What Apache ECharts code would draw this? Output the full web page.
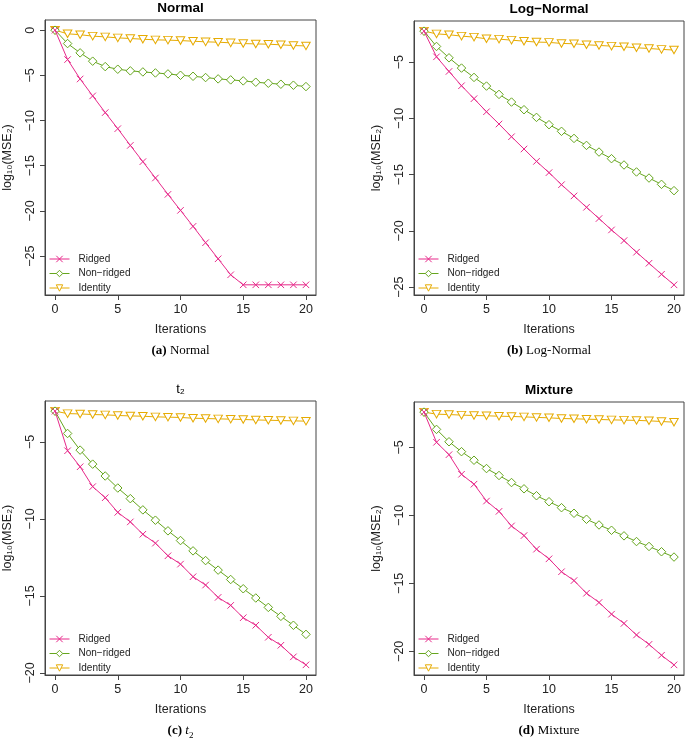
<!DOCTYPE html>
<html><head><meta charset="utf-8">
<script src="https://cdn.jsdelivr.net/npm/echarts@6/dist/echarts.min.js"></script>
<style>html,body{margin:0;padding:0;background:#fff}#c{width:685px;height:741px}</style>
</head><body><div id="c"></div><script>
const iterations = [0,1,2,3,4,5,6,7,8,9,10,11,12,13,14,15,16,17,18,19,20];
const seriesNames = ['Ridged', 'Non\u2212ridged', 'Identity'];
const xTicks = [0,5,10,15,20];

const normalRidged   = [0,-3.25,-5.4,-7.27,-9.12,-10.9,-12.75,-14.55,-16.36,-18.17,-19.94,-21.71,-23.52,-25.3,-27.07,-28.18,-28.18,-28.18,-28.18,-28.18,-28.18];
const normalNonRidged= [0,-1.48,-2.51,-3.43,-4.03,-4.32,-4.5,-4.62,-4.73,-4.84,-4.99,-5.1,-5.24,-5.39,-5.5,-5.61,-5.76,-5.87,-5.98,-6.09,-6.24];
const normalIdentity = [0,-0.4,-0.5,-0.66,-0.74,-0.85,-0.92,-1.0,-1.07,-1.1,-1.15,-1.22,-1.29,-1.33,-1.4,-1.48,-1.52,-1.55,-1.62,-1.7,-1.74];
const normalYTicks = [0,-5,-10,-15,-20,-25];

const lognRidged   = [-2.25,-4.53,-5.83,-7.1,-8.25,-9.41,-10.5,-11.63,-12.72,-13.82,-14.82,-15.89,-16.89,-17.9,-18.9,-19.91,-20.86,-21.89,-22.87,-23.85,-24.79];
const lognNonRidged= [-2.25,-3.61,-4.62,-5.53,-6.36,-7.13,-7.87,-8.55,-9.23,-9.91,-10.56,-11.15,-11.78,-12.4,-12.99,-13.58,-14.14,-14.76,-15.3,-15.86,-16.42];
const lognIdentity = [-2.25,-2.49,-2.57,-2.69,-2.78,-2.93,-2.96,-3.05,-3.14,-3.22,-3.25,-3.34,-3.37,-3.46,-3.52,-3.58,-3.64,-3.73,-3.79,-3.87,-3.93];
const lognYTicks = [-5,-10,-15,-20,-25];

const t2Ridged   = [-3.01,-5.58,-6.62,-7.91,-8.63,-9.58,-10.2,-11.0,-11.58,-12.4,-12.94,-13.76,-14.3,-15.1,-15.62,-16.42,-16.91,-17.69,-18.21,-18.96,-19.48];
const t2NonRidged= [-3.01,-4.46,-5.54,-6.45,-7.22,-8.0,-8.69,-9.42,-10.09,-10.78,-11.41,-12.08,-12.71,-13.33,-13.94,-14.54,-15.14,-15.75,-16.33,-16.91,-17.5];
const t2Identity = [-3.01,-3.17,-3.19,-3.23,-3.25,-3.29,-3.32,-3.34,-3.38,-3.4,-3.42,-3.47,-3.49,-3.51,-3.53,-3.55,-3.58,-3.6,-3.62,-3.64,-3.66];
const t2YTicks = [-5,-10,-15,-20];

const mixRidged   = [-2.41,-4.63,-5.54,-6.98,-7.71,-8.95,-9.71,-10.78,-11.49,-12.49,-13.2,-14.15,-14.8,-15.73,-16.41,-17.27,-17.95,-18.8,-19.49,-20.29,-21.0];
const mixNonRidged= [-2.41,-3.68,-4.59,-5.32,-5.95,-6.56,-7.07,-7.59,-8.05,-8.56,-9.0,-9.44,-9.85,-10.29,-10.71,-11.1,-11.51,-11.93,-12.29,-12.68,-13.07];
const mixIdentity = [-2.41,-2.56,-2.59,-2.63,-2.66,-2.68,-2.71,-2.73,-2.76,-2.8,-2.83,-2.88,-2.9,-2.93,-2.95,-2.98,-3.0,-3.02,-3.05,-3.1,-3.15];
const mixYTicks = [-5,-10,-15,-20];

const colors = ['#E7298A', '#66A61E', '#E6AB02'];
const FONT = 'Liberation Sans, Arial, Helvetica, sans-serif';
const SERIF = 'Liberation Serif, DejaVu Serif, serif';

const panels = [
  {title: 'Normal', bold: true, caption: ['(a)', 'Normal', false], data: [normalRidged, normalNonRidged, normalIdentity], yTicks: normalYTicks,
   grid: {left: 45, top: 20, width: 271, height: 275}},
  {title: 'Log\u2212Normal', bold: true, caption: ['(b)', 'Log-Normal', false], data: [lognRidged, lognNonRidged, lognIdentity], yTicks: lognYTicks,
   grid: {left: 414, top: 21, width: 270, height: 274}},
  {title: 't\u2082', bold: false, caption: ['(c)', 't', true], data: [t2Ridged, t2NonRidged, t2Identity], yTicks: t2YTicks,
   grid: {left: 45, top: 401, width: 271, height: 274}},
  {title: 'Mixture', bold: true, caption: ['(d)', 'Mixture', false], data: [mixRidged, mixNonRidged, mixIdentity], yTicks: mixYTicks,
   grid: {left: 414, top: 402, width: 270, height: 273}}
];

const symbols = ['path://M0,0L10,10M10,0L0,10', 'diamond', 'triangle'];
const symbolSizes = [[6.5,6.5], [8.5,8.5], [8.5,7.5]];
const symbolRotate = [0, 0, 180];

const grids = [], xAxes = [], yAxes = [], series = [], legends = [], graphics = [];
const fmt = v => String(v).replace('-', '\u2212');
const axLine = {show: true, onZero: false, lineStyle: {color: '#444', width: 1}};

panels.forEach((p, i) => {
  grids.push(Object.assign({show: true, borderColor: '#444', borderWidth: 1, backgroundColor: 'transparent'}, p.grid));
  const xPad = (20 - 0) * 0.04;
  xAxes.push({
    type: 'value', gridIndex: i, min: 0 - xPad, max: 20 + xPad, position: 'bottom',
    name: 'Iterations', nameLocation: 'middle', nameGap: 28,
    nameTextStyle: {fontFamily: FONT, fontSize: 12.5, color: '#222'},
    axisLine: axLine, splitLine: {show: false},
    axisTick: {show: true, inside: false, length: 5, lineStyle: {color: '#444', width: 1}, customValues: xTicks},
    axisLabel: {customValues: xTicks, fontFamily: FONT, fontSize: 12.5, color: '#222', margin: 8, formatter: fmt}
  });
  const all = p.data.flat();
  const dmin = Math.min(...all), dmax = Math.max(...all);
  const yPad = (dmax - dmin) * 0.04;
  yAxes.push({
    type: 'value', gridIndex: i, min: dmin - yPad, max: dmax + yPad, position: 'left',
    name: 'log\u2081\u2080(MSE\u2082)', nameLocation: 'middle', nameGap: 31, nameRotate: 90,
    nameTextStyle: {fontFamily: FONT, fontSize: 12.5, color: '#222'},
    axisLine: axLine, splitLine: {show: false},
    axisTick: {show: true, inside: false, length: 5, lineStyle: {color: '#444', width: 1}, customValues: p.yTicks},
    axisLabel: {customValues: p.yTicks, rotate: 90, fontFamily: FONT, fontSize: 12.5, color: '#222', margin: 8, formatter: fmt}
  });
  for (let k = 2; k >= 0; k--) {
    series.push({
      type: 'line', name: seriesNames[k], xAxisIndex: i, yAxisIndex: i,
      data: iterations.map((it, j) => [it, p.data[k][j]]),
      symbol: symbols[k], symbolSize: symbolSizes[k], symbolRotate: symbolRotate[k], showAllSymbol: true,
      lineStyle: {color: colors[k], width: 1},
      itemStyle: {color: k === 0 ? colors[k] : '#fff', borderColor: colors[k], borderWidth: 1},
      emphasis: {disabled: true}, animation: false, z: 3 + (2 - k)
    });
  }
  const g = p.grid;
  legends.push({
    orient: 'vertical', left: g.left + 4, top: g.top + g.height - 41,
    data: seriesNames, itemWidth: 20, itemHeight: 8, itemGap: 4.5,
    lineStyle: {width: 1}, itemStyle: {borderWidth: 1},
    textStyle: {fontFamily: FONT, fontSize: 10, color: '#222', padding: [0,0,0,4]},
    selectedMode: false, padding: 0
  });
  const cx = g.left + g.width / 2;
  graphics.push({
    type: 'text', x: cx, y: g.top - 12,
    style: p.bold ? {text: p.title, font: 'bold 13.5px ' + FONT, fill: '#000', align: 'center', verticalAlign: 'middle'}
                  : {text: p.title, font: '13px ' + FONT, fill: '#000', align: 'center', verticalAlign: 'middle'}
  });
  const c = p.caption;
  graphics.push({
    type: 'text', x: cx, y: g.top + g.height + 56,
    style: {
      text: '{b|' + c[0] + '} ' + (c[2] ? '{i|' + c[1] + '}{s|2}' : '{r|' + c[1] + '}'),
      align: 'center', verticalAlign: 'middle',
      rich: {
        b: {fontFamily: SERIF, fontWeight: 'bold', fontSize: 13, fill: '#000', lineHeight: 15},
        r: {fontFamily: SERIF, fontSize: 13, fill: '#000', lineHeight: 15},
        i: {fontFamily: SERIF, fontStyle: 'italic', fontSize: 13, fill: '#000', lineHeight: 15},
        s: {fontFamily: SERIF, fontSize: 9, fill: '#000', lineHeight: 18, verticalAlign: 'bottom'}
      }
    }
  });
});

const chart = echarts.init(document.getElementById('c'), null, {renderer: 'canvas'});
chart.setOption({
  animation: false, backgroundColor: '#fff',
  grid: grids, xAxis: xAxes, yAxis: yAxes, series: series, legend: legends, graphic: graphics
});
</script></body></html>
